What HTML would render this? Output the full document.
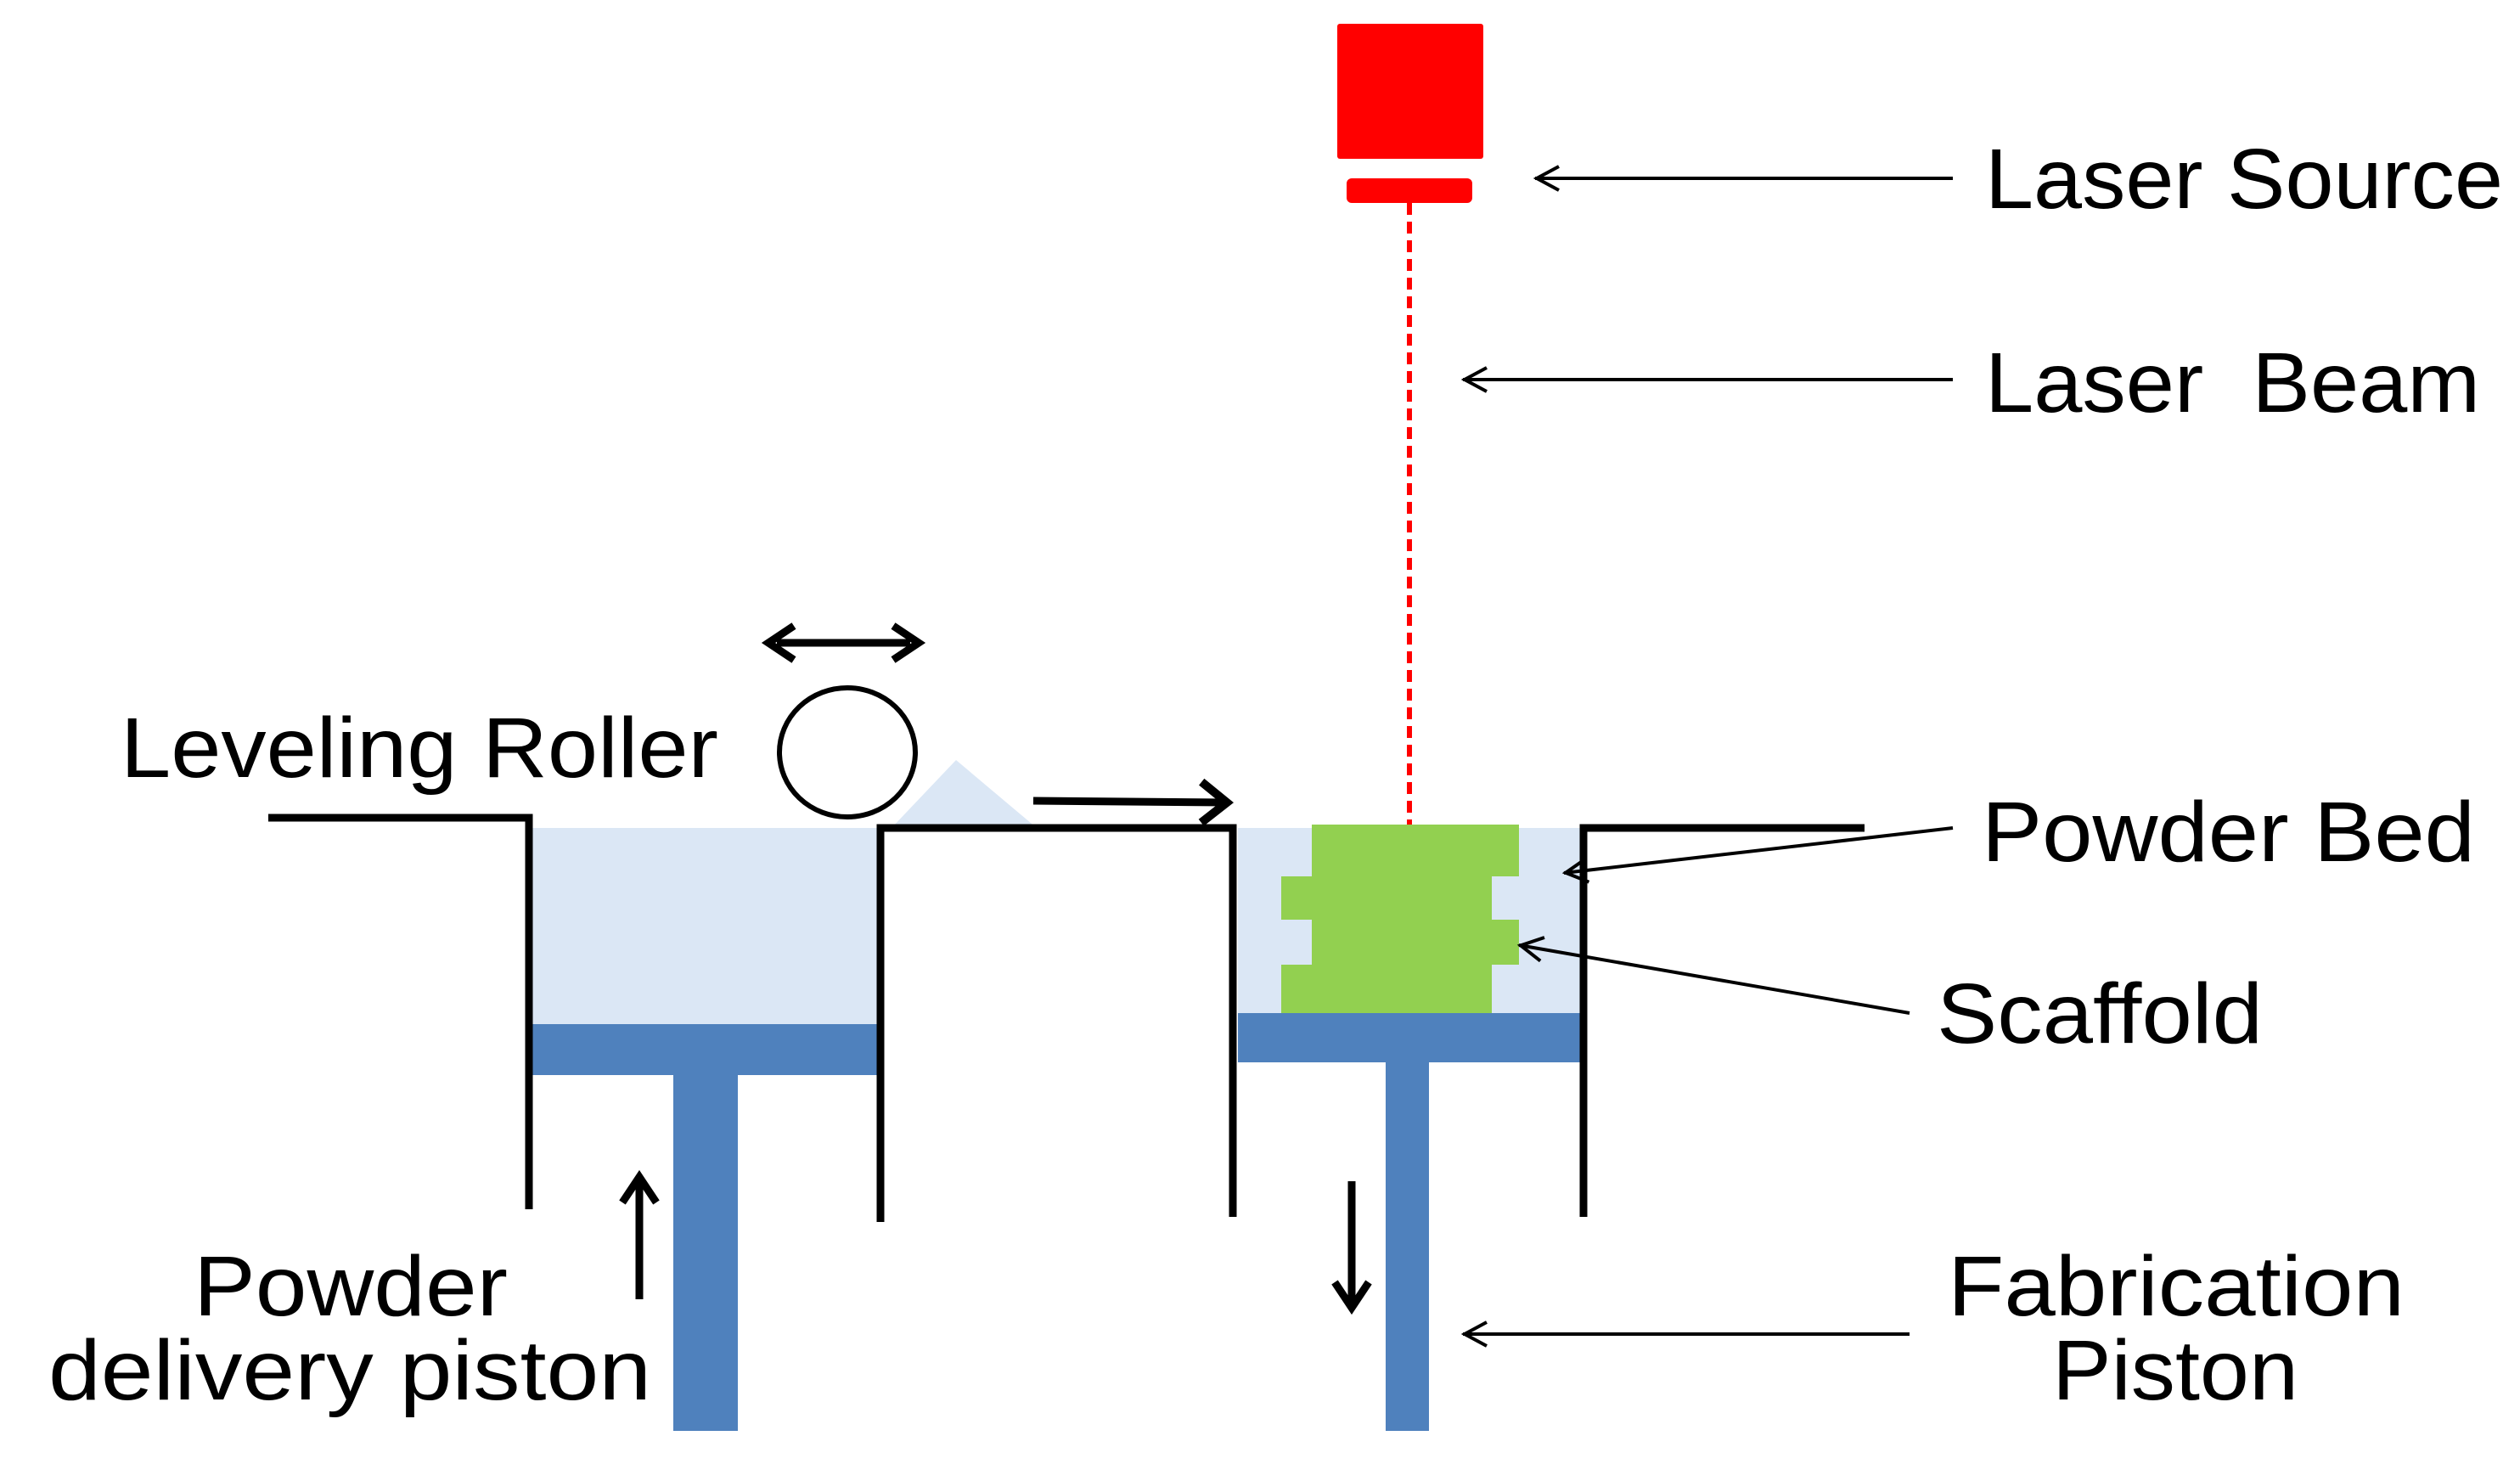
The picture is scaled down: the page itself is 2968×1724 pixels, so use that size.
<!DOCTYPE html>
<html><head><meta charset="utf-8"><style>
html,body{margin:0;padding:0;background:#fff}
svg{display:block}
text{font-family:"Liberation Sans",sans-serif;font-size:100px;fill:#000}
</style></head><body>
<svg width="2968" height="1724" viewBox="0 0 2968 1724" xmlns="http://www.w3.org/2000/svg">
<defs>
<marker id="ah" markerWidth="40" markerHeight="40" refX="36" refY="20" orient="auto" markerUnits="userSpaceOnUse">
<path d="M8,6 L34,20 L8,34" fill="none" stroke="#000" stroke-width="4"/>
</marker>
<marker id="ahb" markerWidth="60" markerHeight="60" refX="44" refY="30" orient="auto" markerUnits="userSpaceOnUse">
<path d="M14,6 L44,30 L14,54" fill="none" stroke="#000" stroke-width="10"/>
</marker>
</defs>
<rect x="1575" y="28" width="172" height="159" rx="3" fill="#ff0000"/>
<rect x="1586" y="210" width="148" height="29" rx="6" fill="#ff0000"/>
<line x1="1660" y1="239" x2="1660" y2="971" stroke="#ff0000" stroke-width="6" stroke-dasharray="14,8"/>
<rect x="627" y="975" width="408" height="231" fill="#dbe7f5"/>
<rect x="1458" y="975" width="407" height="218" fill="#dbe7f5"/>
<polygon points="1050,975 1126,895 1221,975" fill="#dbe7f5"/>
<rect x="627" y="1206" width="408" height="60" fill="#4f81bd"/>
<rect x="793" y="1266" width="76" height="419" fill="#4f81bd"/>
<rect x="1458" y="1193" width="407" height="58" fill="#4f81bd"/>
<rect x="1632" y="1251" width="51" height="434" fill="#4f81bd"/>
<polygon fill="#92d050" points="1545,971 1789,971 1789,1032 1757,1032 1757,1083 1789,1083 1789,1136 1757,1136 1757,1193 1509,1193 1509,1136 1545,1136 1545,1083 1509,1083 1509,1032 1545,1032"/>
<g fill="none" stroke="#000" stroke-width="9">
<polyline points="316,963 623,963 623,1424"/>
<polyline points="1037,1439 1037,975 1452,975 1452,1433"/>
<polyline points="1865,1433 1865,975 2196,975"/>
</g>
<ellipse cx="998" cy="886" rx="80" ry="76" fill="#fff" stroke="#000" stroke-width="6"/>
<g stroke="#000" stroke-width="9" fill="none">
<line x1="915" y1="757" x2="1072" y2="757"/>
<path d="M935,737 L905,757 L935,777"/>
<path d="M1052,737 L1082,757 L1052,777"/>
<line x1="1217" y1="943" x2="1445" y2="945" marker-end="url(#ahb)"/>
<line x1="753" y1="1530" x2="753" y2="1390"/>
<path d="M733,1416 L753,1386 L773,1416"/>
<line x1="1592" y1="1391" x2="1592" y2="1535"/>
<path d="M1572,1510 L1592,1540 L1612,1510"/>
</g>
<g stroke="#000" stroke-width="4" fill="none">
<line x1="2300" y1="210" x2="1808" y2="210" marker-end="url(#ah)"/>
<line x1="2300" y1="447" x2="1723" y2="447" marker-end="url(#ah)"/>
<line x1="2300" y1="975" x2="1842" y2="1028" marker-end="url(#ah)"/>
<line x1="2249" y1="1193" x2="1789" y2="1113" marker-end="url(#ah)"/>
<line x1="2249" y1="1571" x2="1723" y2="1571" marker-end="url(#ah)"/>
</g>
<text x="2338" y="245" textLength="610" lengthAdjust="spacingAndGlyphs">Laser Source</text>
<text x="2338" y="485" textLength="583" lengthAdjust="spacingAndGlyphs">Laser&#160; Beam</text>
<text x="2334" y="1014" textLength="581" lengthAdjust="spacingAndGlyphs">Powder Bed</text>
<text x="2281" y="1228" textLength="384" lengthAdjust="spacingAndGlyphs">Scaffold</text>
<text x="2294" y="1549" textLength="538" lengthAdjust="spacingAndGlyphs">Fabrication</text>
<text x="2417" y="1648" textLength="290" lengthAdjust="spacingAndGlyphs">Piston</text>
<text x="142" y="915" textLength="704" lengthAdjust="spacingAndGlyphs">Leveling Roller</text>
<text x="228" y="1549" textLength="370" lengthAdjust="spacingAndGlyphs">Powder</text>
<text x="57" y="1648" textLength="710" lengthAdjust="spacingAndGlyphs">delivery piston</text>
</svg>
</body></html>
